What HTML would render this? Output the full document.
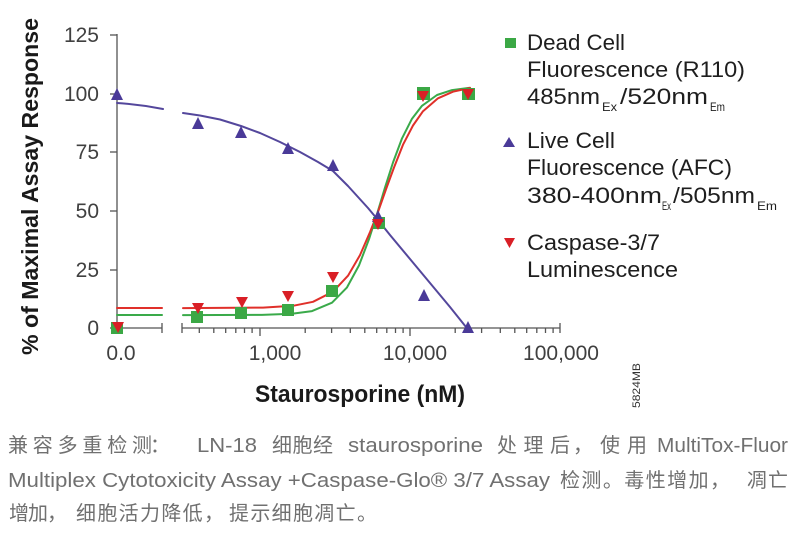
<!DOCTYPE html>
<html><head><meta charset="utf-8"><style>
html,body{margin:0;padding:0;background:#fff;}
svg{display:block;}
</style></head><body>
<svg width="800" height="539" viewBox="0 0 800 539" xmlns="http://www.w3.org/2000/svg">
<rect width="800" height="539" fill="#fff"/>
<g stroke="#555" stroke-width="1.3" fill="none">
  <line x1="117" y1="34" x2="117" y2="333"/>
  <line x1="110" y1="35" x2="117" y2="35"/>
  <line x1="110" y1="94" x2="117" y2="94"/>
  <line x1="110" y1="152" x2="117" y2="152"/>
  <line x1="110" y1="211" x2="117" y2="211"/>
  <line x1="110" y1="270" x2="117" y2="270"/>
  <line x1="110" y1="328" x2="162" y2="328"/>
  <line x1="162" y1="323" x2="162" y2="333"/>
  <line x1="182" y1="328" x2="560" y2="328"/>
  <line x1="182" y1="323" x2="182" y2="333"/>
  <line x1="560" y1="323" x2="560" y2="333"/>
  <line x1="260" y1="328" x2="260" y2="336"/>
  <line x1="410" y1="328" x2="410" y2="336"/>
  <path d="M199.3,328v5M213.8,328v5M225.7,328v5M235.8,328v5M244.5,328v5M252.1,328v5
  M305.2,328v5M331.6,328v5M350.3,328v5M364.8,328v5M376.7,328v5M386.8,328v5M395.5,328v5M403.1,328v5
  M455.2,328v5M481.6,328v5M500.3,328v5M514.8,328v5M526.7,328v5M536.8,328v5M545.5,328v5M553.1,328v5"/>
</g>
<g font-family="Liberation Sans, sans-serif" font-size="21" fill="#404040">
  <text x="99" y="42" text-anchor="end">125</text>
  <text x="99" y="101" text-anchor="end">100</text>
  <text x="99" y="159" text-anchor="end">75</text>
  <text x="99" y="218" text-anchor="end">50</text>
  <text x="99" y="277" text-anchor="end">25</text>
  <text x="99" y="335" text-anchor="end">0</text>
  <text x="121" y="360" text-anchor="middle">0.0</text>
  <text x="275" y="360" text-anchor="middle">1,000</text>
  <text x="415" y="360" text-anchor="middle">10,000</text>
  <text x="561" y="360" text-anchor="middle">100,000</text>
</g>
<text x="255" y="402" font-family="Liberation Sans, sans-serif" font-weight="bold" font-size="24" fill="#1a1a1a" textLength="210" lengthAdjust="spacingAndGlyphs">Staurosporine (nM)</text>
<text transform="translate(38,186.5) rotate(-90)" text-anchor="middle" font-family="Liberation Sans, sans-serif" font-weight="bold" font-size="23" fill="#1a1a1a" textLength="337" lengthAdjust="spacingAndGlyphs">% of Maximal Assay Response</text>

<!-- curves -->
<g fill="none" stroke-width="2" stroke-linejoin="round" stroke-linecap="round">
  <line x1="117" y1="315" x2="162" y2="315" stroke="#3aaa4a"/>
  <line x1="117" y1="308" x2="162" y2="308" stroke="#e0302a"/>
  <path d="M117,103 Q140,104.5 163,109" stroke="#54479c"/>
  <polyline stroke="#3aaa4a" points="183,315.1 262,314.9 292,313.8 312,311.1 332,302.7 347,287.4 359,265.4 369,239.2 377,214.1 385,187.6 393,162.5 402,138.4 412,118.7 422,105.8 437,95 452,90.1 470,87.7"/>
  <polyline stroke="#e0302a" points="183,308.1 263,307.6 293,305.8 313,301.8 333,291.7 348,275.7 360,255.1 370,232.1 378,212 386,189.3 394,167.5 403,144.7 413,125.5 423,111.2 438,98.3 453,91.7 470,88"/>
  <polyline stroke="#54479c" points="183,113 200,115.5 220,119.5 241,126 260,133 280,142 300,152 318,162 333,171 348,186 358,197 368,208 378,220 390,235 410,259 430,283 450,307 466,327"/>
</g>

<!-- green squares -->
<g fill="#3ba845">
  <rect x="111" y="322" width="12" height="12"/>
  <rect x="191" y="311" width="12" height="12"/>
  <rect x="235" y="307" width="12" height="12"/>
  <rect x="282" y="304" width="12" height="12"/>
  <rect x="326" y="285" width="12" height="12"/>
  <rect x="373" y="217" width="12" height="12"/>
  <rect x="417" y="87" width="13" height="13"/>
  <rect x="462" y="88" width="13" height="12"/>
</g>
<!-- purple triangles -->
<g fill="#4a3a98">
  <polygon points="117,88 111,100 123,100"/>
  <polygon points="198,117 192,129 204,129"/>
  <polygon points="241,126 235,138 247,138"/>
  <polygon points="288,142 282,154 294,154"/>
  <polygon points="333,159 327,171 339,171"/>
  <polygon points="378,210 372,222 384,222"/>
  <polygon points="424,289 418,301 430,301"/>
  <polygon points="468,321 462,333 474,333"/>
</g>
<!-- red triangles -->
<g fill="#d91f26">
  <polygon points="112,322 124,322 118,333"/>
  <polygon points="192,303 204,303 198,314"/>
  <polygon points="236,297 248,297 242,308"/>
  <polygon points="282,291 294,291 288,302"/>
  <polygon points="327,272 339,272 333,283"/>
  <polygon points="372,219 384,219 378,230"/>
  <polygon points="417,91 429,91 423,102"/>
  <polygon points="462,89 474,89 468,100"/>
</g>

<!-- legend -->
<rect x="505" y="38" width="11" height="10" fill="#3ba845"/>
<polygon points="509,137 503,147 515,147" fill="#4a3a98"/>
<polygon points="504,238 515,238 509.5,248" fill="#d91f26"/>
<g font-family="Liberation Sans, sans-serif" font-size="22" fill="#1e1e1e">
  <text x="527" y="50" textLength="98" lengthAdjust="spacingAndGlyphs">Dead Cell</text>
  <text x="527" y="77" textLength="218" lengthAdjust="spacingAndGlyphs">Fluorescence (R110)</text>
  <text x="527" y="104" textLength="73" lengthAdjust="spacingAndGlyphs">485nm</text>
  <text x="602" y="111" font-size="12" textLength="15" lengthAdjust="spacingAndGlyphs">Ex</text>
  <text x="620" y="104" textLength="88" lengthAdjust="spacingAndGlyphs">/520nm</text>
  <text x="710" y="111" font-size="12" textLength="15" lengthAdjust="spacingAndGlyphs">Em</text>
  <text x="527" y="148" textLength="88" lengthAdjust="spacingAndGlyphs">Live Cell</text>
  <text x="527" y="175" textLength="205" lengthAdjust="spacingAndGlyphs">Fluorescence (AFC)</text>
  <text x="527" y="203" textLength="135" lengthAdjust="spacingAndGlyphs">380-400nm</text>
  <text x="662" y="210" font-size="12" textLength="9" lengthAdjust="spacingAndGlyphs">Ex</text>
  <text x="673" y="203" textLength="82" lengthAdjust="spacingAndGlyphs">/505nm</text>
  <text x="757" y="210" font-size="12" textLength="20" lengthAdjust="spacingAndGlyphs">Em</text>
  <text x="527" y="250" textLength="133" lengthAdjust="spacingAndGlyphs">Caspase-3/7</text>
  <text x="527" y="277" textLength="151" lengthAdjust="spacingAndGlyphs">Luminescence</text>
</g>

<text transform="translate(640,385.5) rotate(-90)" text-anchor="middle" font-family="Liberation Sans, sans-serif" font-size="11" fill="#333" textLength="45" lengthAdjust="spacingAndGlyphs">5824MB</text>

<!-- caption -->
<g font-family="Liberation Sans, 'Noto Sans CJK SC', sans-serif" font-size="20" fill="#707070">
  <text x="8" y="452" textLength="144" lengthAdjust="spacing">兼容多重检测</text>
  <text x="150" y="452">：</text>
  <text x="197" y="452" textLength="60" lengthAdjust="spacingAndGlyphs">LN-18</text>
  <text x="272" y="452" textLength="61" lengthAdjust="spacing">细胞经</text>
  <text x="348" y="452" textLength="135" lengthAdjust="spacingAndGlyphs">staurosporine</text>
  <text x="497" y="452" textLength="73" lengthAdjust="spacing">处理后</text>
  <text x="573" y="452">，</text>
  <text x="600" y="452" textLength="47" lengthAdjust="spacing">使用</text>
  <text x="657" y="452" textLength="131" lengthAdjust="spacingAndGlyphs">MultiTox-Fluor</text>

  <text x="8" y="487" textLength="542" lengthAdjust="spacingAndGlyphs">Multiplex Cytotoxicity Assay +Caspase-Glo® 3/7 Assay</text>
  <text x="560" y="487" textLength="170" lengthAdjust="spacing">检测。毒性增加，</text>
  <text x="747" y="487" textLength="41" lengthAdjust="spacing">凋亡</text>

  <text x="9" y="520" textLength="58" lengthAdjust="spacing">增加，</text>
  <text x="76" y="520" textLength="148" lengthAdjust="spacing">细胞活力降低，</text>
  <text x="229" y="520" textLength="148" lengthAdjust="spacing">提示细胞凋亡。</text>
</g>
</svg>
</body></html>
